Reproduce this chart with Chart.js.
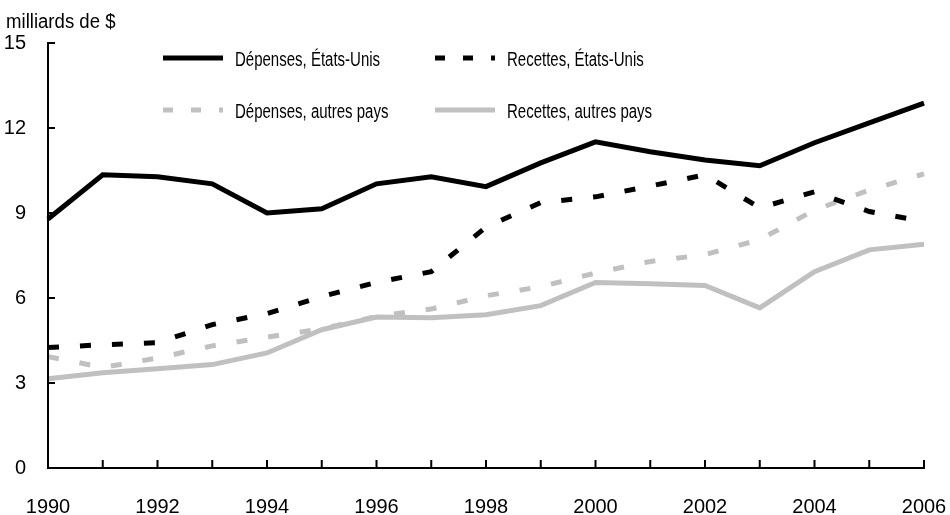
<!DOCTYPE html>
<html>
<head>
<meta charset="utf-8">
<script src="https://cdn.jsdelivr.net/npm/chart.js@4/dist/chart.umd.min.js"></script>
<style>
  html, body { margin: 0; padding: 0; background: #fff; }
  #wrap { width: 950px; height: 515px; position: relative; }
</style>
</head>
<body>
<div id="wrap"><canvas id="c" width="950" height="515"></canvas></div>
<script>
const years = ['1990','1991','1992','1993','1994','1995','1996','1997','1998','1999','2000','2001','2002','2003','2004','2005','2006'];
const yTicks = [0, 3, 6, 9, 12, 15];
const unitLabel = 'milliards de $';

const depensesUS     = [8.79, 10.35, 10.28, 10.03, 9.00, 9.15, 10.03, 10.28, 9.93, 10.77, 11.51, 11.16, 10.87, 10.67, 11.48, 12.18, 12.88];
const recettesUS     = [4.25, 4.35, 4.42, 5.06, 5.45, 6.05, 6.55, 6.93, 8.50, 9.37, 9.57, 9.95, 10.35, 9.18, 9.75, 9.05, 8.70];
const depensesAutres = [3.93, 3.55, 3.88, 4.31, 4.62, 4.91, 5.35, 5.61, 6.08, 6.40, 6.88, 7.29, 7.53, 8.06, 9.10, 9.81, 10.38];
const recettesAutres = [3.15, 3.36, 3.50, 3.65, 4.06, 4.88, 5.33, 5.30, 5.41, 5.73, 6.55, 6.50, 6.44, 5.65, 6.93, 7.70, 7.90];

const seriesNames = ['Dépenses, États-Unis', 'Recettes, États-Unis', 'Dépenses, autres pays', 'Recettes, autres pays'];

const FONT = "'Liberation Sans', Arial, sans-serif";
const BLACK = '#000000';
const GREY = '#c0c0c0';
const DASH = [11, 21];

const axesPlugin = {
  id: 'axesPlugin',
  afterDatasetsDraw(chart) {
    const ctx = chart.ctx;
    const x = chart.scales.x, y = chart.scales.y;
    const left = x.getPixelForValue(0);
    const right = x.getPixelForValue(years.length - 1);
    const top = y.getPixelForValue(yTicks[yTicks.length - 1]);
    const bottom = y.getPixelForValue(0);
    ctx.save();
    ctx.strokeStyle = '#000';
    ctx.lineWidth = 2;
    ctx.lineCap = 'butt';
    ctx.beginPath();
    ctx.moveTo(left, top - 1);
    ctx.lineTo(left, bottom);
    ctx.lineTo(right + 1, bottom);
    ctx.stroke();
    ctx.beginPath();
    yTicks.forEach(v => {
      const py = y.getPixelForValue(v);
      if (v !== 0) { ctx.moveTo(left, py); ctx.lineTo(left + 7, py); }
    });
    years.forEach((yr, i) => {
      const px = x.getPixelForValue(i);
      if (i !== 0) { ctx.moveTo(px, bottom); ctx.lineTo(px, bottom - 8); }
    });
    ctx.stroke();
    ctx.restore();
  }
};

function narrowText(ctx, text, x, y, sx) {
  ctx.save();
  ctx.translate(x, y);
  ctx.scale(sx, 1);
  ctx.fillText(text, 0, 0);
  ctx.restore();
}

const legendPlugin = {
  id: 'customLegend',
  afterDraw(chart) {
    const ctx = chart.ctx;
    const cols = [163, 435];
    const rows = [58, 110];
    const order = [0, 1, 2, 3];
    ctx.save();
    ctx.font = '20px ' + FONT;
    ctx.textBaseline = 'middle';
    ctx.fillStyle = '#000';
    order.forEach((di, k) => {
      const ds = chart.data.datasets.find(d => d.legendIndex === di);
      const cx = cols[k % 2], cy = rows[Math.floor(k / 2)];
      ctx.save();
      ctx.strokeStyle = ds.borderColor;
      ctx.lineWidth = 5;
      ctx.lineCap = 'butt';
      ctx.setLineDash(ds.borderDash && ds.borderDash.length ? [10, 18] : []);
      ctx.beginPath();
      ctx.moveTo(cx, cy);
      ctx.lineTo(cx + 60, cy);
      ctx.stroke();
      ctx.restore();
      narrowText(ctx, ds.label, cx + 72, cy + 2, 0.75);
    });
    ctx.textBaseline = 'alphabetic';
    narrowText(ctx, unitLabel, 6, 28, 0.93);
    ctx.restore();
  }
};

const ctx = document.getElementById('c').getContext('2d');
new Chart(ctx, {
  type: 'line',
  data: {
    labels: years,
    datasets: [
      { label: seriesNames[2], legendIndex: 2, data: depensesAutres, borderColor: GREY, borderDash: DASH, order: 4 },
      { label: seriesNames[3], legendIndex: 3, data: recettesAutres, borderColor: GREY, borderDash: [], order: 3 },
      { label: seriesNames[1], legendIndex: 1, data: recettesUS, borderColor: BLACK, borderDash: DASH, order: 2 },
      { label: seriesNames[0], legendIndex: 0, data: depensesUS, borderColor: BLACK, borderDash: [], order: 1 }
    ].map(d => Object.assign({ borderWidth: 5, pointRadius: 0, tension: 0, fill: false, borderCapStyle: 'butt', borderJoinStyle: 'miter' }, d))
  },
  options: {
    responsive: false,
    animation: false,
    events: [],
    layout: { padding: { top: 43, right: 26, left: 0, bottom: 0 } },
    plugins: { legend: { display: false }, tooltip: { enabled: false }, title: { display: false } },
    scales: {
      x: {
        type: 'category',
        offset: false,
        grid: { display: false, drawTicks: false },
        border: { display: false },
        ticks: {
          autoSkip: false,
          maxRotation: 0,
          padding: 27,
          color: '#000',
          font: { family: FONT, size: 20 },
          callback: function(val, idx) { const l = years[idx]; return (Number(l) % 2 === 0) ? l : ''; }
        },
        afterFit(scale) { scale.height = 47; scale.paddingLeft = 0; scale.paddingRight = 0; }
      },
      y: {
        min: 0, max: 15,
        grid: { display: false, drawTicks: false },
        border: { display: false },
        afterBuildTicks(scale) { scale.ticks = yTicks.map(v => ({ value: v })); },
        ticks: {
          padding: 22,
          color: '#000',
          font: { family: FONT, size: 20 }
        },
        afterFit(scale) { scale.width = 48; scale.paddingTop = 0; scale.paddingBottom = 0; }
      }
    }
  },
  plugins: [axesPlugin, legendPlugin]
});
</script>
</body>
</html>
